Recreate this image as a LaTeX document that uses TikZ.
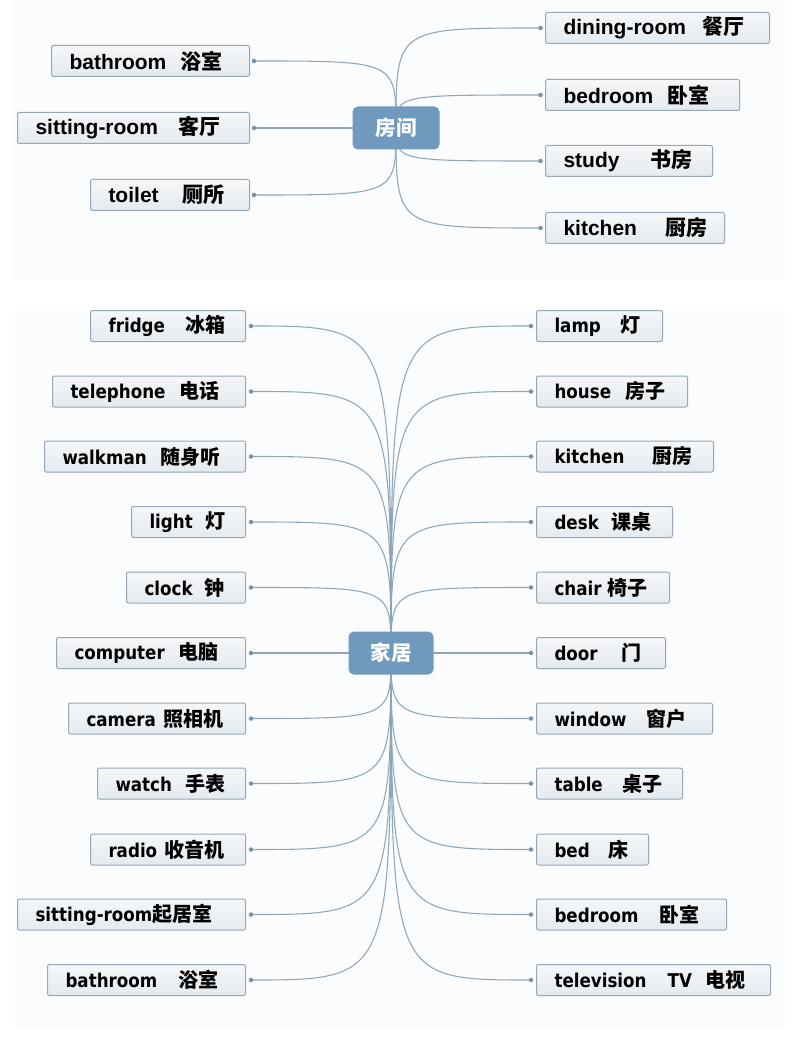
\documentclass[tikz,border=0pt]{standalone}
\usepackage{fontspec}
\setmainfont{Liberation Sans}
\newfontfamily\latT{Liberation Sans}
\newfontfamily\latB{DejaVu Sans}[FakeStretch=0.88]
\newfontfamily\cjk{Noto Sans CJK SC}
\usetikzlibrary{backgrounds}
\newdimen\pxu \pxu=0.75pt
\definecolor{boxtop}{RGB}{245,247,249}
\definecolor{boxbot}{RGB}{228,234,239}
\definecolor{boxline}{RGB}{150,167,183}
\definecolor{hub}{RGB}{111,153,189}
\definecolor{connc}{RGB}{143,166,184}
\definecolor{dotc}{RGB}{120,146,166}
\definecolor{panel}{RGB}{251,252,253}
\newcommand\gp[1]{\hspace*{#1\pxu}}
\newcommand\mkbx[2]{\makebox[#1\pxu][l]{\gp{18}#2}}
\newcommand\zhT[1]{{\cjk\fontsize{15.75pt}{18pt}\selectfont #1}}
\newcommand\zhB[1]{{\cjk\fontsize{15pt}{18pt}\selectfont #1}}
\tikzset{
  box/.style={draw=boxline, line width=0.75pt, top color=boxtop, bottom color=boxbot,
    rounded corners=1.5pt, minimum height=31\pxu, inner sep=0pt},
  tbox/.style={box, font={\latT\bfseries\fontsize{15.75pt}{18pt}\selectfont}},
  bbox/.style={box, font={\latB\bfseries\fontsize{14.25pt}{17pt}\selectfont}},
  hubbox/.style={fill=hub, rounded corners=4pt, text=white, minimum height=43\pxu,
    inner sep=0pt, font={\cjk\bfseries\fontsize{15.4pt}{18pt}\selectfont}},
  connline/.style={draw=connc, line width=0.8pt},
  enddot/.style={fill=dotc, circle, inner sep=0pt, minimum size=4.5\pxu}
}
\begin{document}
\begin{tikzpicture}[x=0.75pt,y=-0.75pt]
\useasboundingbox (0,0) rectangle (800,1055);
% top hub
\node[hubbox, minimum width=87\pxu] (hT) at (396,128) {房间};
\node[tbox, anchor=east] (t1) at (250,61)  {\mkbx{198}{bathroom\gp{14}\zhT{浴室}}};
\node[tbox, anchor=east] (t2) at (250,128) {\mkbx{232}{sitting-room\gp{21}\zhT{客厅}}};
\node[tbox, anchor=east] (t3) at (250,195) {\mkbx{159}{toilet\gp{24}\zhT{厕所}}};
\node[tbox, anchor=west] (t4) at (545,28)  {\mkbx{224}{dining-room\gp{17}\zhT{餐厅}}};
\node[tbox, anchor=west] (t5) at (545,95)  {\mkbx{194}{bedroom\gp{14}\zhT{卧室}}};
\node[tbox, anchor=west] (t6) at (545,161) {\mkbx{167}{study\gp{31}\zhT{书房}}};
\node[tbox, anchor=west] (t7) at (545,228) {\mkbx{179}{kitchen\gp{28}\zhT{厨房}}};
% bottom hub
\node[hubbox, minimum width=85\pxu] (hB) at (391,653) {家居};
\node[bbox, anchor=east] (b1)  at (246,326)   {\mkbx{155}{fridge\gp{20}\zhB{冰箱}}};
\node[bbox, anchor=east] (b2)  at (246,391.5) {\mkbx{193}{telephone\gp{14}\zhB{电话}}};
\node[bbox, anchor=east] (b3)  at (246,456.5) {\mkbx{201}{walkman\gp{14}\zhB{随身听}}};
\node[bbox, anchor=east] (b4)  at (246,522)   {\mkbx{114}{light\gp{13}\zhB{灯}}};
\node[bbox, anchor=east] (b5)  at (246,587.5) {\mkbx{119}{clock\gp{12}\zhB{钟}}};
\node[bbox, anchor=east] (b6)  at (246,653)   {\mkbx{189}{computer\gp{14}\zhB{电脑}}};
\node[bbox, anchor=east] (b7)  at (246,718.5) {\mkbx{177}{camera\gp{8}\zhB{照相机}}};
\node[bbox, anchor=east] (b8)  at (246,783.5) {\mkbx{148}{watch\gp{13}\zhB{手表}}};
\node[bbox, anchor=east] (b9)  at (246,849.5) {\mkbx{155}{radio\gp{7}\zhB{收音机}}};
\node[bbox, anchor=east] (b10) at (246,914.5) {\mkbx{228}{sitting-room\zhB{起居室}}};
\node[bbox, anchor=east] (b11) at (246,980)   {\mkbx{198}{bathroom\gp{21}\zhB{浴室}}};
\node[bbox, anchor=west] (r1)  at (536,326)   {\mkbx{126}{lamp\gp{20}\zhB{灯}}};
\node[bbox, anchor=west] (r2)  at (536,391.5) {\mkbx{151}{house\gp{14}\zhB{房子}}};
\node[bbox, anchor=west] (r3)  at (536,456.5) {\mkbx{177}{kitchen\gp{28}\zhB{厨房}}};
\node[bbox, anchor=west] (r4)  at (536,522)   {\mkbx{136}{desk\gp{13}\zhB{课桌}}};
\node[bbox, anchor=west] (r5)  at (536,587.5) {\mkbx{133}{chair\gp{6}\zhB{椅子}}};
\node[bbox, anchor=west] (r6)  at (536,653)   {\mkbx{129}{door\gp{24}\zhB{门}}};
\node[bbox, anchor=west] (r7)  at (536,718.5) {\mkbx{176}{window\gp{20}\zhB{窗户}}};
\node[bbox, anchor=west] (r8)  at (536,783.5) {\mkbx{146}{table\gp{20}\zhB{桌子}}};
\node[bbox, anchor=west] (r9)  at (536,849.5) {\mkbx{112}{bed\gp{19}\zhB{床}}};
\node[bbox, anchor=west] (r10) at (536,914.5) {\mkbx{190}{bedroom\gp{21}\zhB{卧室}}};
\node[bbox, anchor=west] (r11) at (536,980)   {\mkbx{234}{television\gp{21}TV\gp{14}\zhB{电视}}};
\begin{pgfonlayer}{background}
  \fill[panel] (12,0) rectangle (790,279);
  \fill[panel] (15,310) rectangle (785,1027);
  \foreach \n in {t1,t2,t3} {
    \coordinate (\n d) at ([xshift=4\pxu]\n.east);
    \draw[connline] (hT.center) .. controls (hT.center |- \n d) .. (\n d);
    \node[enddot] (\n dot) at (\n d) {};
  }
  \foreach \n in {t4,t5,t6,t7} {
    \coordinate (\n d) at ([xshift=-4.5\pxu]\n.west);
    \draw[connline] (hT.center) .. controls (hT.center |- \n d) .. (\n d);
    \node[enddot] (\n dot) at (\n d) {};
  }
  \foreach \n in {b1,b2,b3,b4,b5,b6,b7,b8,b9,b10,b11} {
    \coordinate (\n d) at ([xshift=5\pxu]\n.east);
    \draw[connline] (hB.center) .. controls (hB.center |- \n d) .. (\n d);
    \node[enddot] (\n dot) at (\n d) {};
  }
  \foreach \n in {r1,r2,r3,r4,r5,r6,r7,r8,r9,r10,r11} {
    \coordinate (\n d) at ([xshift=-5\pxu]\n.west);
    \draw[connline] (hB.center) .. controls (hB.center |- \n d) .. (\n d);
    \node[enddot] (\n dot) at (\n d) {};
  }
\end{pgfonlayer}
\end{tikzpicture}
\end{document}
